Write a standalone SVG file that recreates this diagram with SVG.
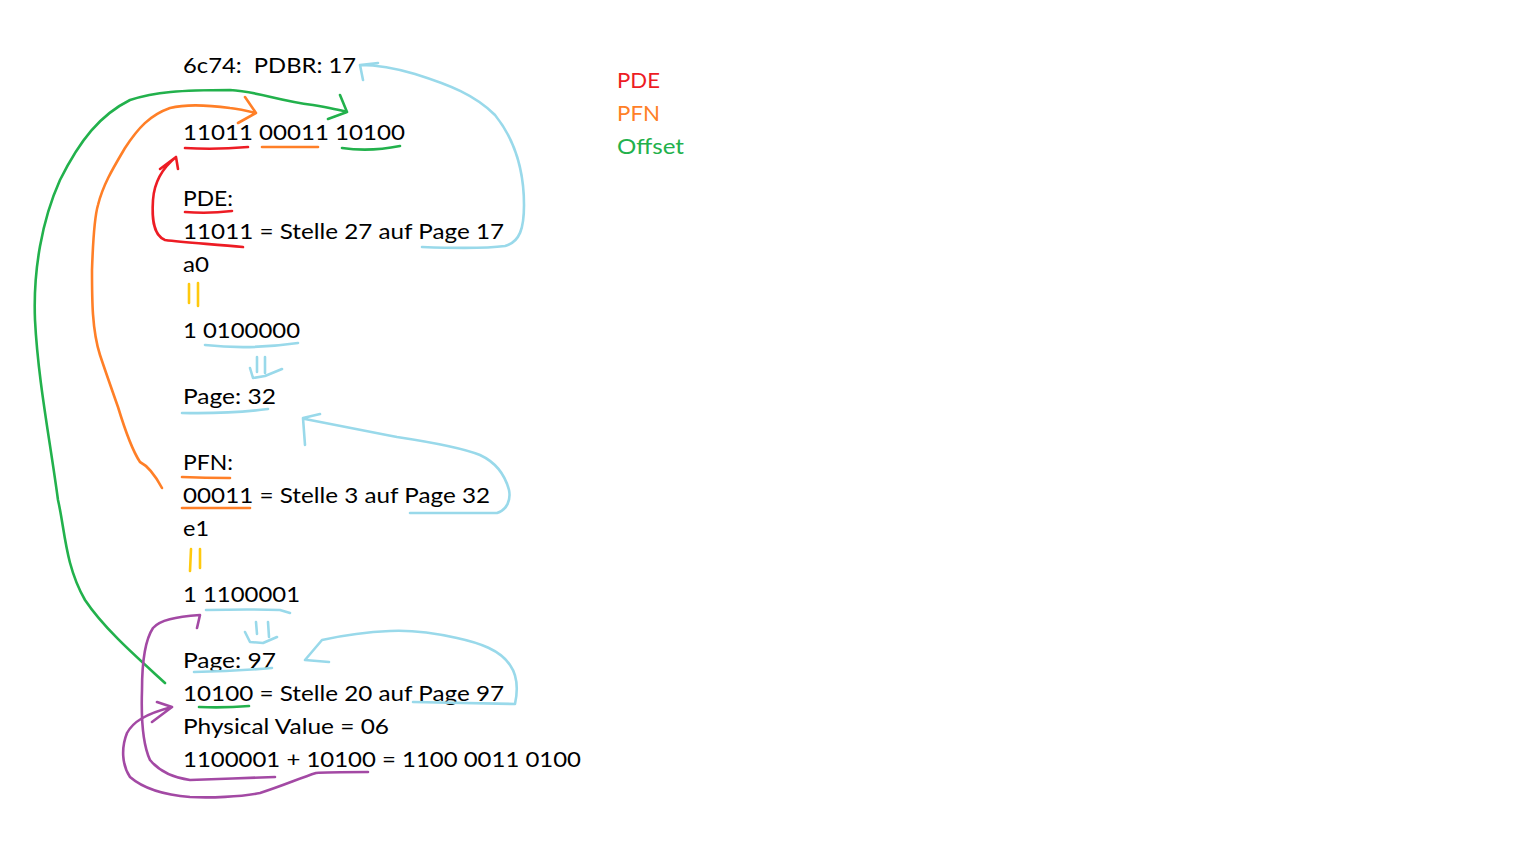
<svg xmlns="http://www.w3.org/2000/svg" width="1536" height="864" viewBox="0 0 1536 864">
<style>
text{font-family:Lato,"Open Sans","Liberation Sans",sans-serif;font-size:21.5px;fill:#000}
.s{fill:none;stroke-width:2.6;stroke-linecap:round;stroke-linejoin:round}
.r{stroke:#ed1c24}.o{stroke:#ff7f27}.g{stroke:#22b14c}.b{stroke:#99d9ea}.y{stroke:#ffc90e}.p{stroke:#a349a4}
</style>
<rect width="1536" height="864" fill="#fff"/>
<g id="legend">
<text x="617" y="88" fill="#ed1c24" style="fill:#ed1c24" textLength="43" lengthAdjust="spacingAndGlyphs">PDE</text>
<text x="617" y="121" style="fill:#ff7f27" textLength="43" lengthAdjust="spacingAndGlyphs">PFN</text>
<text x="617" y="154" style="fill:#22b14c" textLength="67" lengthAdjust="spacingAndGlyphs">Offset</text>
</g>
<g id="n-pdbr"><text x="183" y="73" textLength="173" lengthAdjust="spacingAndGlyphs" xml:space="preserve">6c74:  PDBR: 17</text></g>
<g id="n-addr"><text x="183" y="140" textLength="222" lengthAdjust="spacingAndGlyphs">11011 00011 10100</text></g>
<g id="n-pde">
<text x="183" y="206" textLength="50" lengthAdjust="spacingAndGlyphs">PDE:</text>
<text x="183" y="239" textLength="321" lengthAdjust="spacingAndGlyphs">11011 = Stelle 27 auf Page 17</text>
<text x="183" y="272" textLength="26" lengthAdjust="spacingAndGlyphs">a0</text>
<text x="183" y="338" textLength="117" lengthAdjust="spacingAndGlyphs">1 0100000</text>
<text x="183" y="404" textLength="93" lengthAdjust="spacingAndGlyphs">Page: 32</text>
</g>
<g id="n-pfn">
<text x="183" y="470" textLength="50" lengthAdjust="spacingAndGlyphs">PFN:</text>
<text x="183" y="503" textLength="307" lengthAdjust="spacingAndGlyphs">00011 = Stelle 3 auf Page 32</text>
<text x="183" y="536" textLength="26" lengthAdjust="spacingAndGlyphs">e1</text>
<text x="183" y="602" textLength="117" lengthAdjust="spacingAndGlyphs">1 1100001</text>
<text x="183" y="668" textLength="93" lengthAdjust="spacingAndGlyphs">Page: 97</text>
</g>
<g id="n-offset">
<text x="183" y="701" textLength="321" lengthAdjust="spacingAndGlyphs">10100 = Stelle 20 auf Page 97</text>
<text x="183" y="734" textLength="206" lengthAdjust="spacingAndGlyphs">Physical Value = 06</text>
<text x="183" y="767" textLength="398" lengthAdjust="spacingAndGlyphs">1100001 + 10100 = 1100 0011 0100</text>
</g>
<g id="connectors">
<!-- red -->
<path class="s r" d="M185,148 Q215,150 248,147"/>
<path class="s r" d="M185,212 Q208,214 232,211"/>
<path class="s r" d="M243,247 C215,244 185,243 165,240 C152,235 152,215 153,200 C154,185 160,170 176,157 M160,169 L176,157 L178,169"/>
<!-- orange -->
<path class="s o" d="M262,147 L318,147"/>
<path class="s o" d="M182,477 Q205,478 230,478"/>
<path class="s o" d="M182,508 L250,508"/>
<path class="s o" d="M162,488 C155,475 148,466 140,462 C132,450 125,430 118,407 C112,390 105,370 100,355 C92,330 92,300 92,270 C93,240 95,215 98,205 C103,185 112,170 125,148 C138,128 150,115 170,108 C190,103 215,106 230,108 C240,109 248,111 256,113 M245,97 L256,113 L238,123"/>
<!-- green -->
<path class="s g" d="M342,148 Q370,152 400,146"/>
<path class="s g" d="M199,707 Q225,708 249,706"/>
<path class="s g" d="M165,683 C140,660 105,630 85,600 C65,565 65,530 58,500 C50,440 38,380 35,320 C33,270 42,220 60,180 C80,140 100,115 130,100 C155,92 180,90 230,90 C260,92 275,100 313,105 C330,108 340,110 347,112 M340,95 L347,112 L328,119"/>
<!-- yellow -->
<path class="s y" d="M189,284 L189,303 M198,283 L198,306 M191,549 L190,571 M200,549 L200,568"/>
<!-- blue -->
<path class="s b" d="M422,247 C450,248 490,248 505,246 C520,242 524,228 524,205 C524,170 515,140 495,115 C475,95 450,85 415,74 C395,68 375,65 360,65 M378,63 L360,65 L363,80"/>
<path class="s b" d="M205,345 Q250,350 298,343"/>
<path class="s b" d="M257,357 L257,372 M265,357 L265,373 M250,368 L253,378 L265,376 L282,369"/>
<path class="s b" d="M182,413 Q230,414 268,409"/>
<path class="s b" d="M410,513 L497,513 C507,510 511,500 509,490 C505,475 495,462 480,455 C460,447 430,442 397,437 C370,432 345,427 305,419 M320,414 L303,418 L305,445"/>
<path class="s b" d="M206,610 Q250,609 280,610 L290,613"/>
<path class="s b" d="M256,622 L257,634 M268,622 L269,637 M245,632 L250,642 L263,643 L277,637"/>
<path class="s b" d="M194,672 Q235,671 272,668"/>
<path class="s b" d="M413,702 L515,704 C518,690 517,675 510,665 C500,650 480,643 457,638 C430,632 410,630 390,631 C365,632 340,636 322,640 L305,660 L329,662"/>
<!-- purple -->
<path class="s p" d="M275,777 C250,778 215,779 190,780 C175,778 160,772 150,760 C143,745 141,720 142,690 C142,660 145,640 153,628 C160,620 175,617 200,615 L197,628"/>
<path class="s p" d="M368,772 C345,772 325,772 316,773 C300,778 285,785 260,793 C240,797 210,798 190,797 C165,795 145,790 130,777 C122,765 121,748 127,733 C133,722 145,714 172,707 M157,702 L172,707 L152,722"/>
</g>
</svg>
